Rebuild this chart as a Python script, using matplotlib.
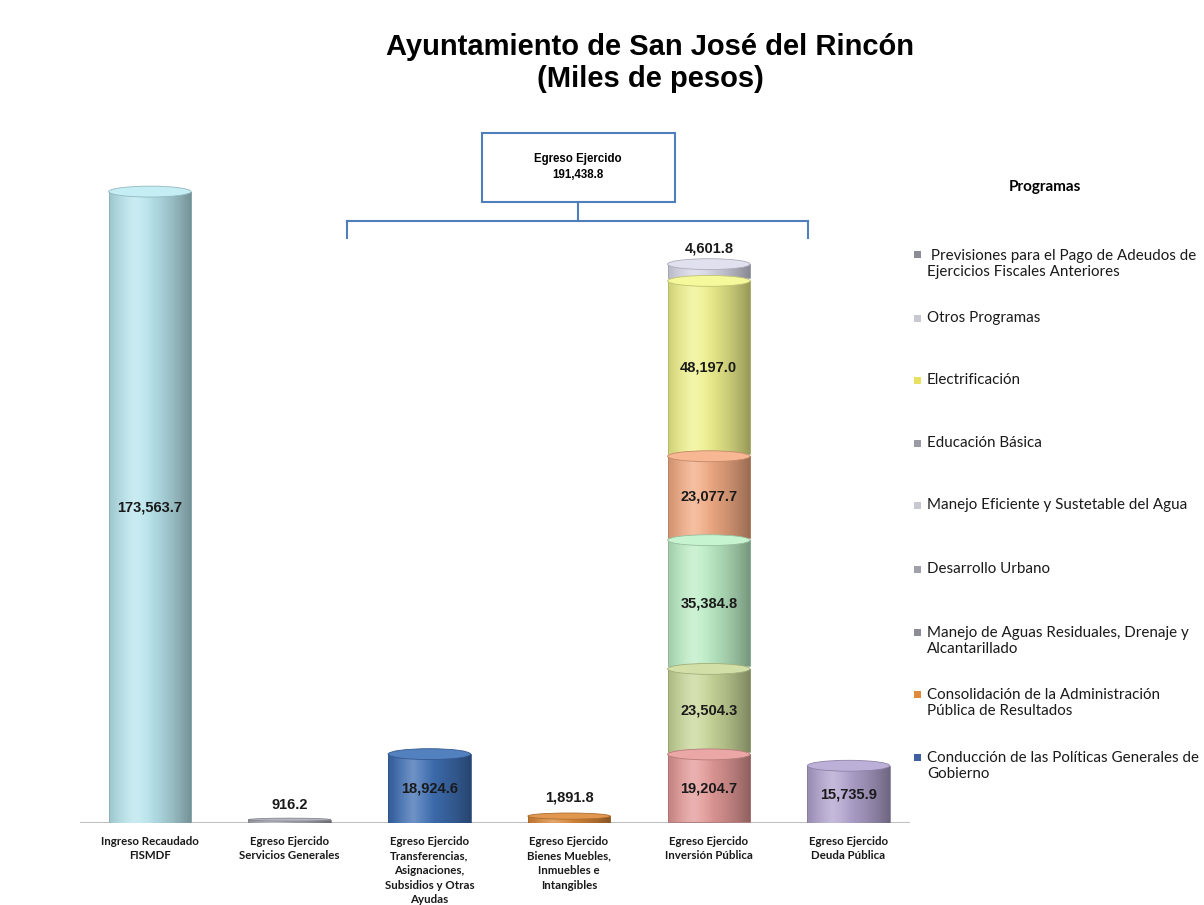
import matplotlib
matplotlib.use("Agg")
import matplotlib.pyplot as plt
import matplotlib.patches as mpatches
from matplotlib.lines import Line2D
from matplotlib.colors import to_rgb
import numpy as np

# Datos (miles de pesos)
categorias = [
    "Ingreso Recaudado\nFISMDF",
    "Egreso Ejercido\nServicios Generales",
    "Egreso Ejercido\nTransferencias,\nAsignaciones,\nSubsidios y Otras\nAyudas",
    "Egreso Ejercido\nBienes Muebles,\nInmuebles e\nIntangibles",
    "Egreso Ejercido\nInversión Pública",
    "Egreso Ejercido\nDeuda Pública",
]
valores_simples = [173563.7, 916.2, 18924.6, 1891.8, None, 15735.9]
colores_simples = ["#b9e6ee", "#a9a9b4", "#3f6fb3", "#d9883a", None, "#b2a4cf"]

# Segmentos de Inversión Pública (de abajo hacia arriba)
inversion_valores = [19204.7, 23504.3, 35384.8, 23077.7, 48197.0, 4601.8]
inversion_colores = ["#e39a98", "#c9d89a", "#bdeec6", "#f2ab84", "#f0f28e", "#d8d8e8"]

programas = [
    " Previsiones para el Pago de Adeudos de\nEjercicios Fiscales Anteriores",
    "Otros Programas",
    "Electrificación",
    "Educación Básica",
    "Manejo Eficiente y Sustetable del Agua",
    "Desarrollo Urbano",
    "Manejo de Aguas Residuales, Drenaje y\nAlcantarillado",
    "Consolidación de la Administración\nPública de Resultados",
    "Conducción de las Políticas Generales de\nGobierno",
]
programas_colores = ["#8c8c96", "#c8c8d0", "#e8e060", "#9a9aa4", "#c8c8d0",
                     "#a0a0aa", "#8c8c96", "#e08a3a", "#3f5fa0"]
programas_y = [264, 318, 380, 443, 505, 569, 641, 703, 766]

total_egreso = sum(v for v in valores_simples[1:] if v) + sum(inversion_valores)

W, H = 1204, 905
fig = plt.figure(figsize=(W / 100, H / 100), dpi=100)


def fx(x):
    return x / W


def fy(y):
    return 1 - y / H


ax = fig.add_axes([fx(80), fy(823), fx(910) - fx(80), fy(150) - fy(823)])
ax.set_xlim(-0.5, 5.44)
ax.set_ylim(0, 185000)
ax.axis("off")

bw = 0.59
cap_h = 3000


def cilindro(x, y0, h, color, cap=True):
    base = np.array(to_rgb(color))
    t = np.linspace(0, 1, 200)
    bright = 1 - 0.38 * (np.abs(t - 0.35) / 0.65) ** 1.6
    hl = np.clip(1 - np.abs(t - 0.3) / 0.25, 0, 1) * 0.25
    rgb = base[None, :] * bright[:, None]
    rgb = rgb * (1 - hl[:, None]) + hl[:, None]
    img = np.clip(rgb, 0, 1)[None, :, :]
    rect = mpatches.Rectangle((x - bw / 2, y0), bw, h, facecolor="none", edgecolor="none")
    ax.add_patch(rect)
    im = ax.imshow(img, extent=(x - bw / 2, x + bw / 2, y0, y0 + h),
                   aspect="auto", zorder=2, interpolation="bilinear")
    im.set_clip_path(rect)
    ax.add_patch(mpatches.Rectangle((x - bw / 2, y0), bw, h, facecolor="none",
                                    edgecolor=tuple(base * 0.75), lw=0.6, zorder=3))
    if cap:
        ch = min(cap_h, h * 0.9)
        top = tuple(np.clip(base * 0.92 + 0.1, 0, 1))
        ax.add_patch(mpatches.Ellipse((x, y0 + h), bw, ch, facecolor=top,
                                      edgecolor=tuple(base * 0.8), lw=0.6, zorder=4))


# Barras simples
for i, (v, c) in enumerate(zip(valores_simples, colores_simples)):
    if v is None:
        continue
    cilindro(i, 0, v, c)

# Barra apilada de Inversión Pública
base_y = 0
xi = 4
gap = 700
for v, c in zip(inversion_valores, inversion_colores):
    cilindro(xi, base_y + gap / 2, v - gap, c)
    base_y += v

# Etiquetas de valores
lab = dict(fontsize=10.5, fontweight="bold", family="Liberation Sans",
           ha="center", va="center", color="#1a1a1a", zorder=6)
ax.text(0, valores_simples[0] / 2, f"{valores_simples[0]:,.1f}", **lab)
ax.text(1, valores_simples[1] + 4000, f"{valores_simples[1]:,.1f}", **lab)
ax.text(2, valores_simples[2] / 2, f"{valores_simples[2]:,.1f}", **lab)
ax.text(3, valores_simples[3] + 5000, f"{valores_simples[3]:,.1f}", **lab)
ax.text(5, valores_simples[5] / 2, f"{valores_simples[5]:,.1f}", **lab)
acc = 0
for k, v in enumerate(inversion_valores):
    if k == len(inversion_valores) - 1:
        ax.text(xi, acc + v + 4000, f"{v:,.1f}", **lab)
    else:
        ax.text(xi, acc + v / 2, f"{v:,.1f}", **lab)
    acc += v

# Línea base
ax.axhline(0, color="#bfbfbf", lw=1.5, zorder=1)

# Etiquetas de categorías
for i, c in enumerate(categorias):
    ax.text(i, -3500, c, ha="center", va="top", fontsize=8.3, fontweight="bold",
            family="Lato", linespacing=1.4, color="#1a1a1a")

# Título
fig.text(fx(650), fy(63), "Ayuntamiento de San José del Rincón\n(Miles de pesos)",
         ha="center", va="center", fontsize=21, fontweight="bold",
         family="Liberation Sans", linespacing=1.2)

# Caja Egreso Ejercido y corchete
azul = "#4f7fba"
fig.patches.append(mpatches.Rectangle((fx(482), fy(202)), fx(675) - fx(482), fy(133) - fy(202),
                                      transform=fig.transFigure, facecolor="white",
                                      edgecolor=azul, lw=1.5))
fig.text(fx(578), fy(167), f"Egreso Ejercido\n{total_egreso:,.1f}", ha="center", va="center",
         fontsize=8.3, fontweight="bold", family="Liberation Sans", linespacing=1.35)
for xs, ys in [([578, 578], [202, 221]), ([347, 808], [221, 221]),
               ([347, 347], [221, 238]), ([808, 808], [221, 238])]:
    fig.lines.append(Line2D([fx(x) for x in xs], [fy(y) for y in ys],
                            transform=fig.transFigure, color=azul, lw=1.5))

# Leyenda
fig.text(fx(1045), fy(187), "Programas", ha="center", va="center", fontsize=11,
         fontweight="bold", family="Lato")
for txt, col, y in zip(programas, programas_colores, programas_y):
    nlines = txt.count("\n") + 1
    ytop = y - (nlines - 1) * 9.5
    fig.patches.append(mpatches.Rectangle((fx(914), fy(ytop + 4)), fx(7), fy(0) - fy(7),
                                          transform=fig.transFigure, facecolor=col,
                                          edgecolor="none"))
    fig.text(fx(927), fy(y), txt, ha="left", va="center", fontsize=10.9,
             family="Lato", linespacing=1.25, color="#1a1a1a")

fig.savefig("out.png", dpi=100, facecolor="white")
